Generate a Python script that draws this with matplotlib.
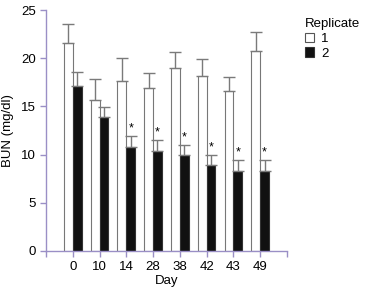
import matplotlib
matplotlib.use("Agg")
import matplotlib.pyplot as plt
from matplotlib.patches import Patch
import numpy as np

plt.rcParams["font.family"] = ["Liberation Sans", "DejaVu Sans"]

days = ["0", "10", "14", "28", "38", "42", "43", "49"]
rep1 = [21.6, 15.7, 17.6, 16.9, 19.0, 18.15, 16.6, 20.7]
rep1_err = [2.0, 2.1, 2.4, 1.6, 1.6, 1.75, 1.4, 2.0]
rep2 = [17.1, 13.9, 10.75, 10.4, 9.95, 8.9, 8.3, 8.3]
rep2_err = [1.5, 1.0, 1.15, 1.1, 1.05, 1.1, 1.1, 1.1]
signif = [False, False, True, True, True, True, True, True]

axis_col = "#9a8fc6"
err_col = "#7a7a7a"
fs = 9.5

fig = plt.figure(figsize=(3.77, 2.90), dpi=100)
ax = fig.add_axes([0.122, 0.1345, 0.639, 0.831])

x = np.arange(len(days))
w = 0.33
ax.bar(x - w / 2, rep1, w, color="white", edgecolor="#777777", linewidth=0.8)
ax.bar(x + w / 2, rep2, w, color="#111111", edgecolor="#333333", linewidth=0.8)
ax.errorbar(x - w / 2, rep1, yerr=[np.zeros(len(rep1)), rep1_err], fmt="none",
            ecolor=err_col, elinewidth=1, capsize=4, capthick=1)
ax.errorbar(x + w / 2, rep2, yerr=[np.zeros(len(rep2)), rep2_err], fmt="none",
            ecolor=err_col, elinewidth=1, capsize=4, capthick=1)

for i, s in enumerate(signif):
    if s:
        ax.text(x[i] + w / 2, rep2[i] + rep2_err[i] + 0.15, "*", ha="center",
                va="bottom", fontsize=9)

ax.set_xlim(-1, 8)
ax.set_ylim(0, 25)
ax.set_xticks(np.concatenate([[-1], x, [8]]))
ax.set_xticklabels([""] + days + [""])
ax.set_yticks([0, 5, 10, 15, 20, 25])
ax.tick_params(labelsize=fs, colors=axis_col, labelcolor="black", length=4, width=1)
for side in ["top", "right"]:
    ax.spines[side].set_visible(False)
for side in ["left", "bottom"]:
    ax.spines[side].set_color(axis_col)
    ax.spines[side].set_linewidth(1)
ax.set_ylabel("BUN (mg/dl)", fontsize=fs, labelpad=5)
ax.set_xlabel("Day", fontsize=fs, labelpad=1.5)

handles = [Patch(facecolor="white", edgecolor="#555555", linewidth=0.8, label="1"),
           Patch(facecolor="#111111", edgecolor="#333333", linewidth=0.8, label="2")]
leg = fig.legend(handles=handles, title="Replicate", loc="upper left",
                 bbox_to_anchor=(0.785, 0.97), frameon=False, fontsize=fs,
                 title_fontsize=fs, handlelength=0.7, handleheight=0.7,
                 handletextpad=0.5, labelspacing=0.2, borderpad=0.2)
leg._legend_box.align = "left"

fig.savefig("out.png", dpi=100)
